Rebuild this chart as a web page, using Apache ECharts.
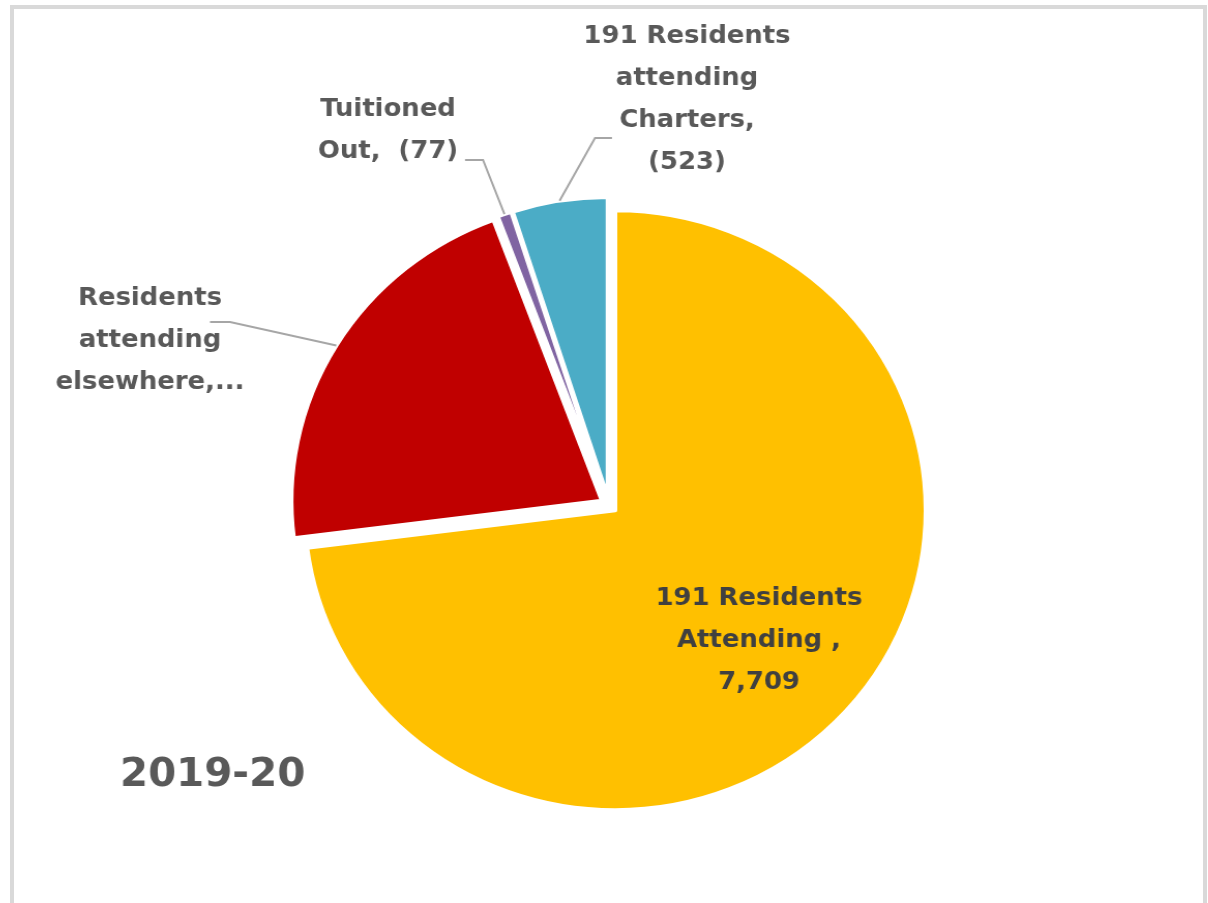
<!DOCTYPE html>
<html>
<head>
<meta charset="utf-8">
<script src="https://cdn.jsdelivr.net/npm/echarts@6/dist/echarts.min.js"></script>
<style>
	html, body { margin: 0; padding: 0; background: #fff; overflow: hidden; }
	#frame { position: absolute; left: 10px; top: 5px; width: 1197px; height: 920px; border: 4px solid #d9d9d9; box-sizing: border-box; }
	/* the source picture is a little wider than tall */
	#main { position: absolute; left: 0; top: 0; width: 1208px; height: 903px; transform: scaleX(1.035); transform-origin: 609px 0; }
</style>
</head>
<body>
<div id="frame"></div>
<div id="main"></div>
<script>
var names = ['191 Residents Attending', 'Residents attending elsewhere', 'Tuitioned Out', '191 Residents attending Charters'];
var values = [7709, 2250, 77, 523];
var colors = ['#FFC000', '#C00000', '#8064A2', '#4BACC6'];
var yearText = '2019-20';

var SX = 1.035, OX = 609;
var CX = 609, CY = 505, R = 300, EXPLODE = 8;
var FONT = 'DejaVu Sans';

// label centres and where their leader lines leave the text (page pixels)
var labelPos = [[759, 640], [150, 340], [388, 130], [687, 99]];
var lineStart = [null, [[210, 322], [230, 322]], [[465, 160], [483, 160]], [[612, 138], [595, 138]]];

function ux(x) {
	return OX + (x - OX) / SX;
}

function fmt(v) {
	return v.toLocaleString('en-US');
}

function labelText(i) {
	if(i == 0) return '191 Residents\nAttending ,\n' + fmt(values[0]);
	if(i == 1) return 'Residents\nattending\nelsewhere,...';
	if(i == 2) return 'Tuitioned\nOut,  (' + fmt(values[2]) + ')';
	return '191 Residents\nattending\nCharters,\n(' + fmt(values[3]) + ')';
}

var pieData = [];
for(var i = 0; i < values.length; i++) {
	pieData.push({
		name: names[i],
		value: values[i],
		selected: true,
		itemStyle: { color: colors[i] }
	});
}

var chart = echarts.init(document.getElementById('main'), null, { renderer: 'canvas' });
chart.setOption({
	animation: false,
	backgroundColor: 'transparent',
	title: {
		text: yearText,
		left: ux(120),
		top: 756,
		padding: 0,
		textStyle: {
			fontFamily: FONT,
			fontWeight: 'bold',
			fontSize: 39,
			color: '#595959'
		}
	},
	series: [{
		type: 'pie',
		center: [CX, CY],
		radius: R,
		startAngle: 90,
		clockwise: true,
		selectedMode: 'multiple',
		selectedOffset: EXPLODE,
		emphasis: { disabled: true },
		itemStyle: {
			borderColor: '#fff',
			borderWidth: 4
		},
		label: { show: false },
		labelLine: { show: false },
		data: pieData
	}]
});

// labels and leader lines, hooked to the slices the pie laid out
var pieLayout = chart.getModel().getSeriesByIndex(0).getData();
var graphics = [];
for(var k = 0; k < values.length; k++) {
	graphics.push({
		type: 'text',
		silent: true,
		style: {
			x: ux(labelPos[k][0]),
			y: labelPos[k][1],
			text: labelText(k),
			align: 'center',
			verticalAlign: 'middle',
			font: 'bold 25px "' + FONT + '"',
			lineHeight: 42,
			fill: k == 0 ? '#404040' : '#595959'
		},
		z: 10
	});
	if(lineStart[k]) {
		var lay = pieLayout.getItemLayout(k);
		var mid = (lay.startAngle + lay.endAngle) / 2;
		var rr = lay.r + EXPLODE;
		var pts = [];
		for(var j = 0; j < lineStart[k].length; j++) {
			pts.push([ux(lineStart[k][j][0]), lineStart[k][j][1]]);
		}
		pts.push([lay.cx + rr * Math.cos(mid), lay.cy + rr * Math.sin(mid)]);
		graphics.push({
			type: 'polyline',
			silent: true,
			shape: { points: pts },
			style: { stroke: '#a6a6a6', lineWidth: 2, fill: null },
			z: 10
		});
	}
}
chart.setOption({ graphic: graphics });
</script>
</body>
</html>
